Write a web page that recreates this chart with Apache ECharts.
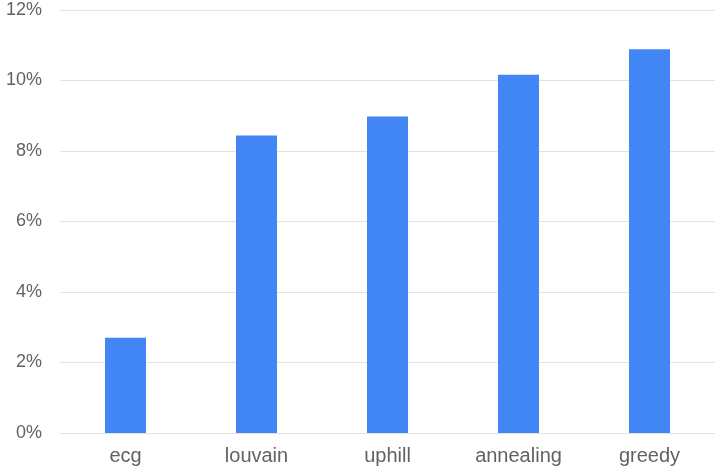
<!DOCTYPE html>
<html>
<head>
<meta charset="utf-8">
<script src="https://cdn.jsdelivr.net/npm/echarts@6/dist/echarts.min.js"></script>
<style>
  html, body { margin: 0; padding: 0; background: #ffffff; overflow: hidden; }
  #chart { width: 715px; height: 474px; }
</style>
</head>
<body>
<div id="chart"></div>
<script>
// Share of runs per method, in percent
const categories = ['ecg', 'louvain', 'uphill', 'annealing', 'greedy'];
const values = [2.7, 8.44, 8.98, 10.16, 10.89];

const yMin = 0;
const yMax = 12;
const yStep = 2;

const chart = echarts.init(document.getElementById('chart'), null, { renderer: 'canvas' });

chart.setOption({
  animation: false,
  backgroundColor: '#ffffff',
  grid: { left: 60, top: 10, right: -4, height: 423, containLabel: false },
  xAxis: {
    type: 'category',
    data: categories,
    axisLine: { show: false },
    axisTick: { show: false },
    axisLabel: {
      color: '#626262',
      fontFamily: 'Liberation Sans, Arial, sans-serif',
      fontSize: 20,
      margin: 13
    }
  },
  yAxis: {
    type: 'value',
    min: yMin,
    max: yMax,
    interval: yStep,
    axisLine: { show: false },
    axisTick: { show: false },
    splitLine: { lineStyle: { color: '#e2e2e2', width: 1 } },
    axisLabel: {
      color: '#626262',
      fontFamily: 'Liberation Sans, Arial, sans-serif',
      fontSize: 18,
      margin: 18,
      formatter: v => v + '%'
    }
  },
  series: [{
    type: 'bar',
    data: values,
    barWidth: 41,
    itemStyle: { color: '#4285f4' }
  }]
});
</script>
</body>
</html>
